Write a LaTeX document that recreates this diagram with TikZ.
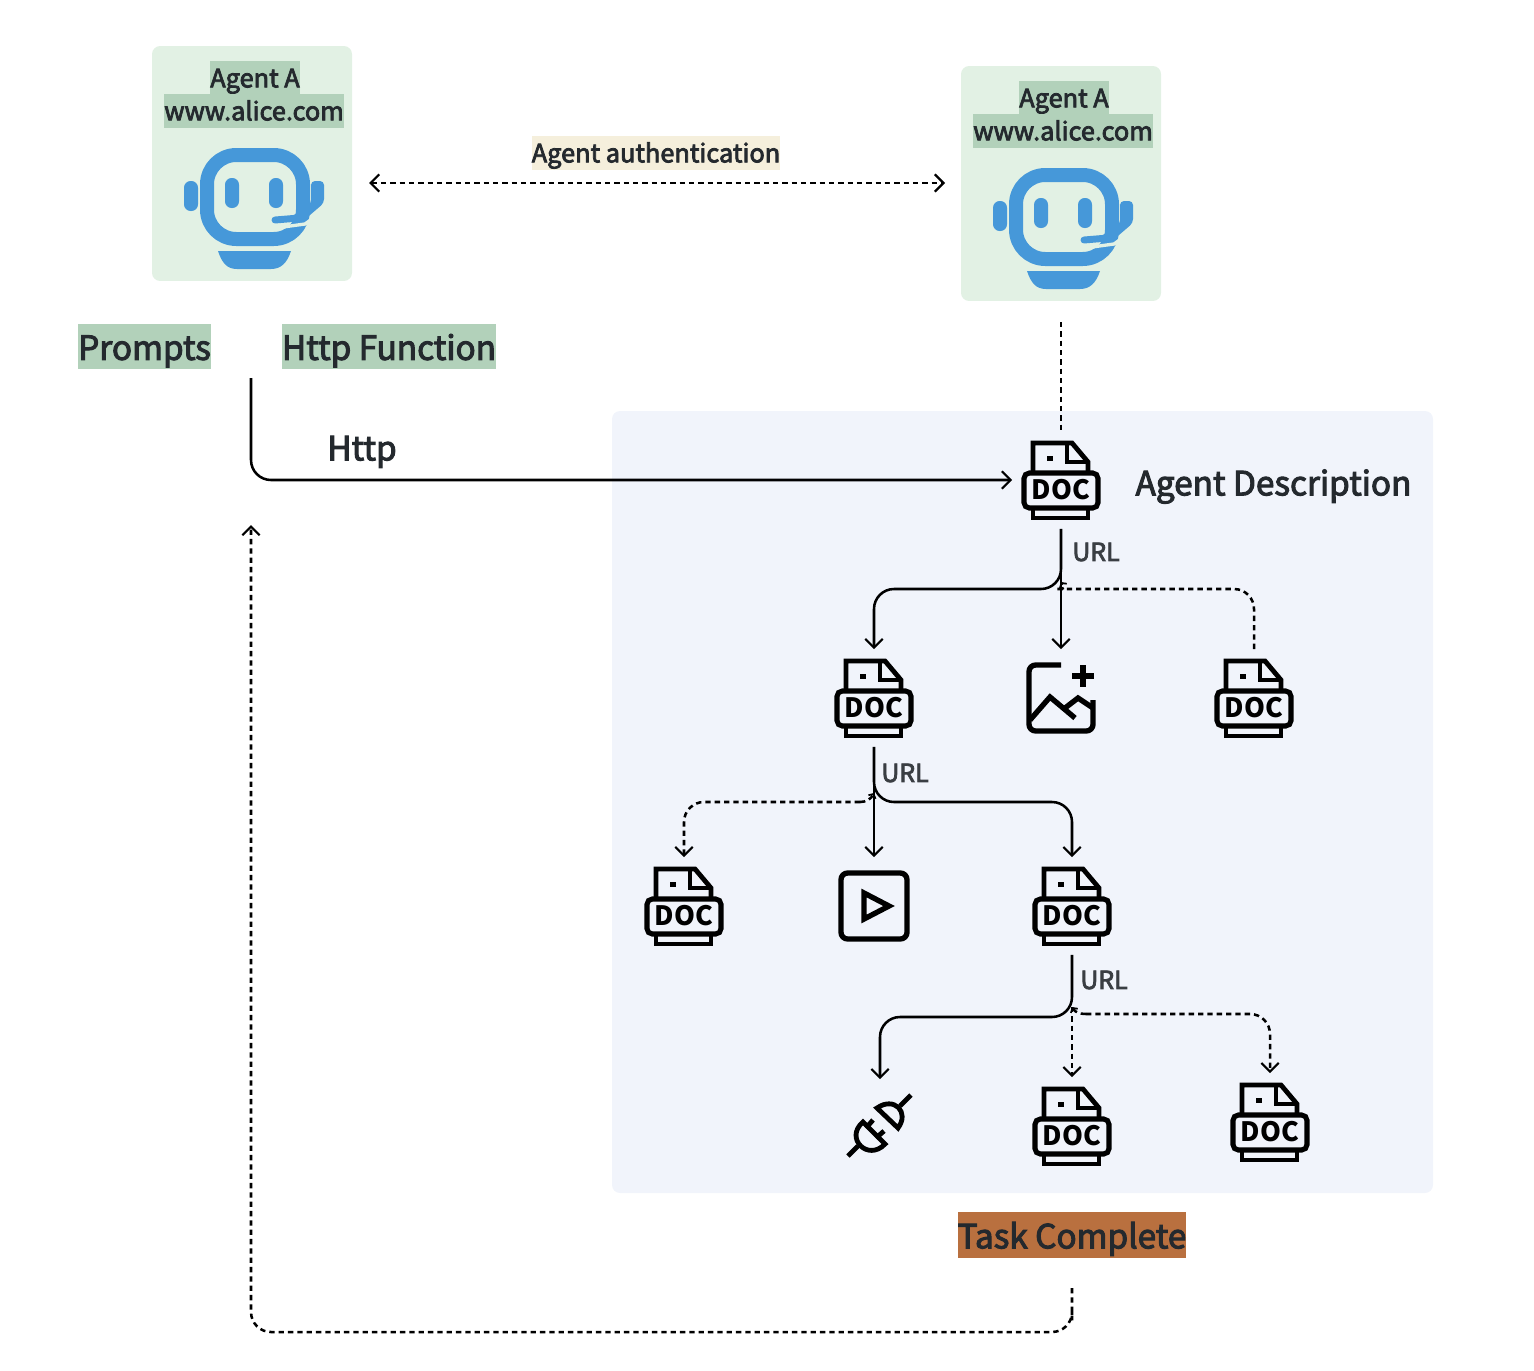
\documentclass[tikz,border=0pt]{standalone}
\usepackage{fontspec}
\newfontfamily\lblfont[FakeBold=3]{Noto Sans CJK SC}
\newfontfamily\docfont{Noto Sans CJK SC}
\usetikzlibrary{arrows.meta,positioning}
\definecolor{txtdark}{HTML}{24292E}
\definecolor{paneblue}{HTML}{F1F4FB}
\definecolor{cardgreen}{HTML}{E2F1E4}
\definecolor{markgreen}{HTML}{B2D1BA}
\definecolor{markcream}{HTML}{F5EFDC}
\definecolor{markbrown}{HTML}{B9703F}
\definecolor{botblue}{HTML}{4698D9}
\tikzset{
  flow/.style={draw=black,line width=1.9pt,-{Straight Barb[length=6.5pt,width=13pt,line width=1.6pt]},rounded corners=15pt},
  dotflow/.style={flow,dash pattern=on 4pt off 3pt},
  jointip/.style={flow,dash pattern=on 4pt off 3pt,-{Straight Barb[length=2.5pt,width=6pt,line width=1.3pt]}},
  iconbox/.style={minimum width=73pt,minimum height=73pt,inner sep=0pt},
  smalltag/.style={font=\lblfont\fontsize{19}{20}\selectfont,text=txtdark,inner xsep=0pt,inner ysep=0pt,minimum height=25pt,text height=16pt,text depth=2pt},
  bigtag/.style={font=\lblfont\fontsize{25}{28}\selectfont,text=txtdark,inner xsep=0pt,inner ysep=0pt,minimum height=34pt,text height=22pt,text depth=2pt},
  urltag/.style={font=\lblfont\fontsize{18.7}{20}\selectfont,text=txtdark!90,inner sep=0pt},
  pics/botface/.style={code={
    \draw[botblue,line width=10.5pt,rounded corners=22pt] (-48,-42) rectangle (48,42);
    \fill[botblue,rounded corners=5pt] (-30,-19) rectangle (-16,11);
    \fill[botblue,rounded corners=5pt] (14,-19) rectangle (28,11);
    \fill[botblue,rounded corners=5pt] (-57,-16) -- (-71,-16) -- (-71,14) -- (-57,14) -- cycle;
    \draw[cardgreen,line width=2.5pt] (28,30) -- (50,27) -- (64,17);
    \fill[botblue,rounded corners=3pt] (56,-16) -- (69,-16) -- (69,6) -- (48,24) -- (38,26) -- (38,17) -- (46,15) -- (56,7) -- cycle;
    \draw[botblue,line width=5.2pt,line cap=round] (20,23) -- (44,21);
    \fill[botblue] (-37,54) -- (36,54) .. controls (32,66) and (26,72) .. (16,72) -- (-18,72) .. controls (-28,72) and (-33,66) .. (-37,54) -- cycle;
  }},
  pics/docicon/.style={code={
    \draw[line width=3.6pt,line join=miter] (-28,-8) -- (-28,-37) -- (11,-37) -- (27,-18) -- (27,-8);
    \draw[line width=3.2pt] (6,-37) -- (6,-18) -- (27,-18);
    \fill (-14,-24) rectangle (-8,-19);
    \draw[line width=3.8pt,rounded corners=4pt] (-37,-7) rectangle (37,28);
    \draw[line width=3.6pt] (-28,28) -- (-28,38) -- (27,38) -- (27,28);
    \node[font=\docfont\fontsize{20}{20}\selectfont,inner sep=0pt] at (0,10) {\textbf{DOC}};
  }},
  pics/picicon/.style={code={
    \draw[line width=4pt,rounded corners=5pt] (0,-33) -- (-32,-33) -- (-32,33) -- (32,33) -- (32,2);
    \draw[line width=4pt] (-31,22) -- (-11,-1) -- (14,20);
    \draw[line width=4pt] (4,10) -- (17,0) -- (32,10);
    \draw[line width=4pt] (11,-22) -- (33,-22) (22,-33) -- (22,-11);
  }},
  pics/playicon/.style={code={
    \draw[line width=4pt,rounded corners=5pt] (-33,-33) rectangle (33,33);
    \draw[line width=4pt,line join=miter] (-10,-13) -- (-10,13) -- (15,0) -- cycle;
  }},
  pics/plugicon/.style={code={
    \draw[line width=3.6pt] (-3,-20) -- (18,0) .. controls (30,-16) and (14,-32) .. (-3,-20) -- cycle;
    \draw[line width=3.6pt] (20,-22) -- (31,-33);
    \draw[line width=3.6pt] (-17,-6) -- (5,16) .. controls (-12,34) and (-36,10) .. (-17,-6) -- cycle;
    \draw[line width=3.6pt] (-14,0) -- (-7,-8) (-4,10) -- (4,3);
    \draw[line width=3.6pt] (-32,28) -- (-22,18);
  }}
}
\begin{document}
\begin{tikzpicture}[x=0.75pt,y=-0.75pt]
\useasboundingbox (0,0) rectangle (1534,1370);
% panels
\fill[paneblue,rounded corners=6pt] (612,411) rectangle (1433,1193);
\node[fill=cardgreen,rounded corners=6pt,minimum width=150pt,minimum height=176.2pt,inner sep=0pt] (CardA) at (252,163.5) {};
\node[fill=cardgreen,rounded corners=6pt,minimum width=150pt,minimum height=176.2pt,inner sep=0pt] (CardB) at (1061,183.5) {};
% agents
\foreach \cx/\cy/\nm in {255/78/A,1064/98/B} {
  \node[smalltag,fill=markgreen] (Name\nm) at (\cx,\cy) {Agent A};
  \node[smalltag,fill=markgreen] (Site\nm) at (\cx-1,\cy+33) {www.alice.com};
  \pic at (\cx,\cy+119) {botface};
}
\node[smalltag,fill=markcream] (Auth) at (656,153) {Agent authentication};
\node[bigtag,fill=markgreen] (Prompts) at (144.5,346.5) {Prompts};
\node[bigtag,fill=markgreen] (HttpFn) at (389,346.5) {Http Function};
\node[bigtag] (Http) at (362,447) {Http};
\node[bigtag] (Desc) at (1273.5,482) {Agent Description};
\node[bigtag,fill=markbrown] (Task) at (1072,1235) {Task Complete};
% icons
\foreach \i/\x/\y/\kind in {1/1061/480/docicon,2/874/698/docicon,3/1061/698/picicon,4/1254/698/docicon,
    5/684/906/docicon,6/874/906/playicon,7/1072/906/docicon,8/880/1128/plugicon,9/1072/1126/docicon,10/1270/1122/docicon} {
  \node[iconbox] (N\i) at (\x,\y) {};
  \pic at (N\i) {\kind};
}
\node[urltag] (Url1) at (1096,552) {URL};
\node[urltag] (Url2) at (905,773) {URL};
\node[urltag] (Url3) at (1104,980) {URL};
% junctions
\coordinate (J1) at (1061,589);
\coordinate (J1a) at (1076,589);
\coordinate (J1b) at (1061,582);
\coordinate (J2) at (874,802);
\coordinate (J2a) at (860,802);
\coordinate (J2b) at (874,793);
\coordinate (J3) at (1072,1017);
\coordinate (J3a) at (1086,1014);
\coordinate (J3b) at (1072,1007);
\coordinate (HttpTop) at (251,378);
\coordinate (BackTop) at (251,525);
\coordinate (TaskEnd) at (1072,1288);
\coordinate (AuthL) at (369,183);
\coordinate (AuthR) at (945,183);
\coordinate (DescTop) at (1061,322);
% connectors
\draw[dotflow,{Straight Barb[length=6.5pt,width=13pt,line width=1.6pt]}-{Straight Barb[length=6.5pt,width=13pt,line width=1.6pt]}] (AuthL) -- (AuthR);
\draw[line width=1.9pt,dash pattern=on 4pt off 3pt] (DescTop) -- (N1.north);
\draw[flow] (HttpTop) |- (N1.west);
\draw[flow] (N1.south) -- (J1) -| (N2.north);
\draw[flow] (N1.south) -- (N3.north);
\draw[jointip] (N4.north) |- (J1a) .. controls (1068,589) and (1064,587) .. (J1b);
\draw[flow] (N2.south) -- (J2) -| (N7.north);
\draw[flow] (N2.south) -- (N6.north);
\draw[dotflow] (J2a) -| (N5.north);
\draw[jointip] (J2a) .. controls (866,802) and (871,799) .. (J2b);
\draw[flow] (N7.south) -- (J3) -| (N8.north);
\draw[dotflow] (J3b) -- (N9.north);
\draw[dotflow] (J3a) -| (N10.north);
\draw[jointip] (J3a) .. controls (1079,1014) and (1075,1012) .. (J3b);
\draw[dotflow] (TaskEnd) |- (1072,1332) -| (BackTop);
\end{tikzpicture}
\end{document}
